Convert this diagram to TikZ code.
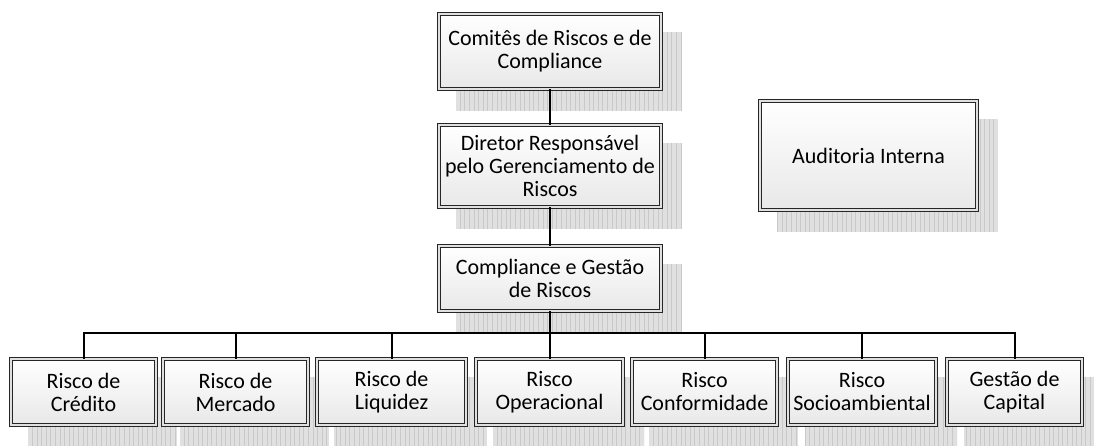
\documentclass[tikz,border=0pt]{standalone}
\usepackage{fontspec}
\setmainfont{Carlito}
\begin{document}
\begin{tikzpicture}[x=1pt,y=-1pt,
  boxst/.style={draw=black!85, line width=0.8pt, double=black!12, double distance=2.2pt,
    top color=white, bottom color=black!9, align=center, inner sep=0pt,
    font=\fontsize{22}{23}\selectfont},
  conn/.style={draw=black, line width=2pt}]
\useasboundingbox (0,0) rectangle (1094,445);
% shadows
\newcommand{\shadowbox}[4]{%
  \begin{scope}
    \clip (#1+19,#2+20) rectangle (#3+19,#4+20);
    \fill[black!12] (#1+19,#2+20) rectangle (#3+19,#4+20);
    \draw[black!21, line width=0.45pt, step=4.6] (#1+19,#2+20) grid (#3+19,#4+20);
  \end{scope}}
\shadowbox{437}{12}{663}{91}
\shadowbox{437}{123}{663}{209}
\shadowbox{437}{244}{663}{313}
\shadowbox{758}{99}{979}{212}
\shadowbox{9}{357}{158}{427}
\shadowbox{161}{357}{310}{427}
\shadowbox{315}{357}{468}{427}
\shadowbox{474}{357}{625}{427}
\shadowbox{630}{357}{779}{427}
\shadowbox{786}{357}{938}{427}
\shadowbox{945}{357}{1084}{427}
% boxes
\node[boxst, minimum width=222, minimum height=75] (top) at (550,51.5) {Comitês de Riscos e de\\Compliance};
\node[boxst, minimum width=222, minimum height=82] (dir) at (550,166) {Diretor Responsável\\pelo Gerenciamento de\\Riscos};
\node[boxst, minimum width=222, minimum height=65] (comp) at (550,278.5) {Compliance e Gestão\\de Riscos};
\node[boxst, minimum width=217, minimum height=109] (aud) at (868.5,155.5) {Auditoria Interna};
\node[boxst, minimum width=145, minimum height=66] (b1) at (83.5,392) {Risco de\\Crédito};
\node[boxst, minimum width=145, minimum height=66] (b2) at (235.5,392) {Risco de\\Mercado};
\node[boxst, minimum width=149, minimum height=66] (b3) at (391.5,392) {Risco de\\Liquidez};
\node[boxst, minimum width=147, minimum height=66] (b4) at (549.5,392) {Risco\\Operacional};
\node[boxst, minimum width=145, minimum height=66] (b5) at (704.5,392) {Risco\\Conformidade};
\node[boxst, minimum width=148, minimum height=66] (b6) at (862,392) {Risco\\Socioambiental};
\node[boxst, minimum width=135, minimum height=66] (b7) at (1014.5,392) {Gestão de\\Capital};
\coordinate (bus) at (550,333);
% connectors
\draw[conn] (top.south) -- (dir.north);
\draw[conn] (dir.south) -- (comp.north);
\draw[conn] (comp.south) -- (bus);
\draw[conn] (b1.north) |- (bus) -| (b7.north);
\foreach \b in {b2,b3,b4,b5,b6} \draw[conn] (\b.north) -- (\b.north |- bus);
\end{tikzpicture}
\end{document}
